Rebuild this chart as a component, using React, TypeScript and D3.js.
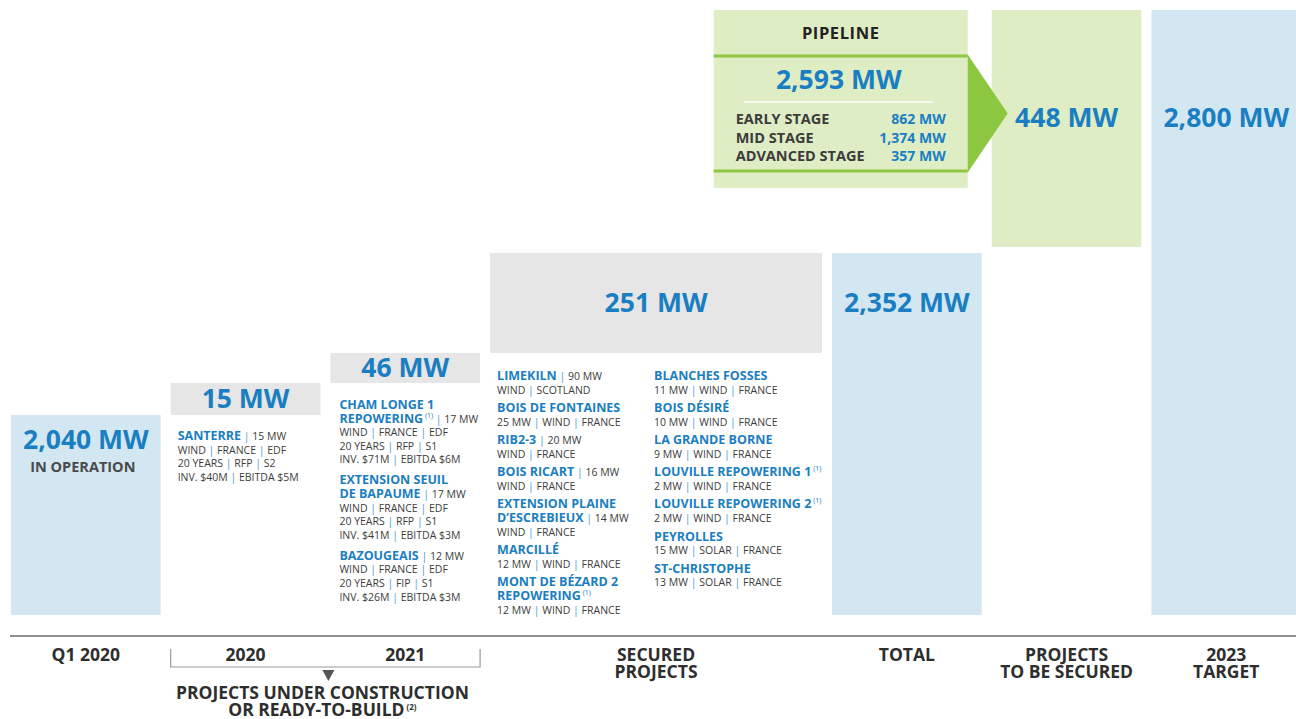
import { useEffect, useRef } from "react";
import * as d3 from "d3";

// Columns of the capacity bridge
const columns = ["Q1 2020", "2020", "2021", "SECURED PROJECTS", "TOTAL", "PROJECTS TO BE SECURED", "2023 TARGET"];
const axisLabels = [["Q1 2020"], ["2020"], ["2021"], ["SECURED", "PROJECTS"], ["TOTAL"], ["PROJECTS", "TO BE SECURED"], ["2023", "TARGET"]];
const capacityMW = [2040, 15, 46, 251, 2352, 448, 2800];
const isTotal = [true, false, false, false, true, false, true];
const barKind = ["operating", "construction", "construction", "secured", "operating", "pipeline", "operating"];
const columnSpan = [1, 1, 1, 2.141, 1, 1, 1];

const groupLabel = ["PROJECTS UNDER CONSTRUCTION", "OR READY-TO-BUILD"];
const groupNote = "(2)";

// Pipeline breakdown
const pipelineStages = ["EARLY STAGE", "MID STAGE", "ADVANCED STAGE"];
const pipelineMW = [862, 1374, 357];

type Project = { name: string[]; note?: string; tail?: string; lines: string[] };

const projects2020: Project[] = [
  { name: ["SANTERRE"], tail: " | 15 MW", lines: ["WIND | FRANCE | EDF", "20 YEARS | RFP | S2", "INV. $40M | EBITDA $5M"] },
];

const projects2021: Project[] = [
  { name: ["CHAM LONGE 1", "REPOWERING"], note: "(1)", tail: " | 17 MW", lines: ["WIND | FRANCE | EDF", "20 YEARS | RFP | S1", "INV. $71M  | EBITDA $6M"] },
  { name: ["EXTENSION SEUIL", "DE BAPAUME"], tail: " | 17 MW", lines: ["WIND | FRANCE | EDF", "20 YEARS | RFP | S1", "INV. $41M | EBITDA $3M"] },
  { name: ["BAZOUGEAIS"], tail: " | 12 MW", lines: ["WIND | FRANCE | EDF", "20 YEARS | FIP | S1", "INV. $26M | EBITDA $3M"] },
];

const securedLeft: Project[] = [
  { name: ["LIMEKILN"], tail: " | 90 MW", lines: ["WIND | SCOTLAND"] },
  { name: ["BOIS DE FONTAINES"], lines: ["25 MW | WIND | FRANCE"] },
  { name: ["RIB2-3"], tail: " | 20 MW", lines: ["WIND | FRANCE"] },
  { name: ["BOIS RICART"], tail: " | 16 MW", lines: ["WIND | FRANCE"] },
  { name: ["EXTENSION PLAINE", "D\u2019ESCREBIEUX"], tail: " | 14 MW", lines: ["WIND | FRANCE"] },
  { name: ["MARCILLÉ"], lines: ["12 MW  | WIND | FRANCE"] },
  { name: ["MONT DE BÉZARD 2", "REPOWERING"], note: "(1)", lines: ["12 MW  | WIND | FRANCE"] },
];

const securedRight: Project[] = [
  { name: ["BLANCHES FOSSES"], lines: ["11 MW  | WIND | FRANCE"] },
  { name: ["BOIS DÉSIRÉ"], lines: ["10 MW  | WIND | FRANCE"] },
  { name: ["LA GRANDE BORNE"], lines: ["9 MW | WIND | FRANCE"] },
  { name: ["LOUVILLE REPOWERING 1"], note: "(1)", lines: ["2 MW | WIND | FRANCE"] },
  { name: ["LOUVILLE REPOWERING 2"], note: "(1)", lines: ["2 MW | WIND | FRANCE"] },
  { name: ["PEYROLLES"], lines: ["15 MW  | SOLAR | FRANCE"] },
  { name: ["ST-CHRISTOPHE"], lines: ["13 MW  | SOLAR | FRANCE"] },
];

const FONT = "'Open Sans', 'Noto Sans', sans-serif";
const BLUE = "#1a7ec2";
const PIPE = "#4b9bd6";
const DARK = "#3c3c3c";
const fills: Record<string, string> = {
  operating: "#d3e7f3",
  construction: "#e6e6e6",
  secured: "#e6e6e6",
  pipeline: "#deedc4",
};
const GREEN = "#8dc63f";

export default function App() {
  const ref = useRef<SVGSVGElement | null>(null);

  useEffect(() => {
    const width = 1296;
    const svg = d3.select(ref.current);
    svg.selectAll("*").remove();

    const fmt = d3.format(",");

    // x: column units -> pixels
    const GAP = 10;
    const starts = [0, ...Array.from(d3.cumsum(columnSpan))];
    const xu = d3.scaleLinear().domain([0, 1]).range([11, 170.7]);
    const colX0 = (i: number) => xu(starts[i]);
    const colX1 = (i: number) => xu(starts[i + 1]) - GAP;
    const colMid = (i: number) => (colX0(i) + colX1(i)) / 2;

    // running bridge
    let run = 0;
    const bars = capacityMW.map((v, i) => {
      const from = isTotal[i] ? 0 : run;
      const to = isTotal[i] ? v : run + v;
      run = to;
      return { i, from, to };
    });

    // the bridge is not drawn to scale: piecewise scale through each level
    const levels = Array.from(new Set([0, ...bars.map(b => b.to)])).sort(d3.ascending);
    const y = d3.scaleLinear().domain(levels).range([615, 415, 383, 353, 253, 10]);

    // Bars
    svg
      .append("g")
      .selectAll("rect")
      .data(bars)
      .enter()
      .append("rect")
      .attr("x", d => colX0(d.i))
      .attr("y", d => y(d.to))
      .attr("width", d => colX1(d.i) - colX0(d.i))
      .attr("height", d => y(d.from) - y(d.to) - (barKind[d.i] === "pipeline" ? 6 : 0))
      .attr("fill", d => fills[barKind[d.i]]);

    // Pipeline box
    const px1 = colX1(4) - 14;
    const px0 = px1 - 254;
    const ptop = y(capacityMW[6]);
    const line1 = ptop + 46;
    const line2 = ptop + 161;
    const arrowY = (line1 + line2) / 2;
    const pg = svg.append("g");
    pg.append("rect")
      .attr("x", px0)
      .attr("y", ptop)
      .attr("width", px1 - px0)
      .attr("height", 178)
      .attr("fill", fills.pipeline);
    pg.append("path")
      .attr("d", `M${px1},${line1 - 1.5}L${px1 + 40},${arrowY}L${px1},${line2 + 1.5}Z`)
      .attr("fill", GREEN);
    [line1, line2].forEach(ly =>
      pg.append("line")
        .attr("x1", px0)
        .attr("x2", px1)
        .attr("y1", ly)
        .attr("y2", ly)
        .attr("stroke", GREEN)
        .attr("stroke-width", 3)
    );
    pg.append("text")
      .attr("x", (px0 + px1) / 2)
      .attr("y", ptop + 29)
      .attr("text-anchor", "middle")
      .attr("font-size", 16.5)
      .attr("letter-spacing", 0.6)
      .attr("font-weight", 700)
      .attr("fill", "#222")
      .text("PIPELINE");
    pg.append("text")
      .attr("x", (px0 + px1) / 2 - 2)
      .attr("y", ptop + 79)
      .attr("text-anchor", "middle")
      .attr("font-size", 26.5)
      .attr("font-weight", 700)
      .attr("fill", BLUE)
      .text(`${fmt(d3.sum(pipelineMW))} MW`);
    pg.append("line")
      .attr("x1", px0 + 30)
      .attr("x2", px1 - 35)
      .attr("y1", ptop + 92)
      .attr("y2", ptop + 92)
      .attr("stroke", "#fff")
      .attr("stroke-width", 1.5);
    pipelineStages.forEach((s, k) => {
      const by = ptop + 114 + k * 18.5;
      pg.append("text")
        .attr("x", px0 + 22)
        .attr("y", by)
        .attr("font-size", 14.5)
        .attr("font-weight", 700)
        .attr("fill", DARK)
        .text(s);
      pg.append("text")
        .attr("x", px1 - 22)
        .attr("y", by)
        .attr("text-anchor", "end")
        .attr("font-size", 14)
        .attr("font-weight", 700)
        .attr("fill", BLUE)
        .text(`${fmt(pipelineMW[k])} MW`);
    });

    // Value labels
    const labelY = (i: number): number => {
      const b = bars[i];
      if (i === 0) return y(b.to) + 34;
      if (i === 4) return labelY(3);
      if (i >= 5) return arrowY + 13;
      return (y(b.from) + y(b.to)) / 2 + 9;
    };
    svg
      .append("g")
      .selectAll("text")
      .data(bars)
      .enter()
      .append("text")
      .attr("x", d => colMid(d.i))
      .attr("y", d => labelY(d.i))
      .attr("text-anchor", "middle")
      .attr("font-size", 26.5)
      .attr("font-weight", 700)
      .attr("fill", BLUE)
      .text(d => `${fmt(capacityMW[d.i])} MW`);
    svg.append("text")
      .attr("x", colMid(0) - 3)
      .attr("y", y(bars[0].to) + 57)
      .attr("text-anchor", "middle")
      .attr("font-size", 14.5)
      .attr("font-weight", 700)
      .attr("fill", "#4a4a4a")
      .text("IN OPERATION");

    // Project lists
    const addPiped = (t: d3.Selection<SVGTextElement, unknown, null, undefined>, str: string, dy = 0) => {
      str.split("|").forEach((part, k) => {
        if (k > 0) t.append("tspan").attr("fill", PIPE).attr("font-size", 10.5).text("|");
        const s = t.append("tspan").attr("fill", DARK).attr("font-size", 10.5).text(part);
        if (k === 0 && dy) s.attr("dy", dy);
      });
    };
    const drawBlock = (list: Project[], x: number, y0: number, lineStep: number, groupStep: number) => {
      const g = svg.append("g").style("white-space", "pre");
      let yy = y0;
      list.forEach((p, pi) => {
        if (pi > 0) yy += groupStep - lineStep;
        p.name.forEach((n, ni) => {
          const t = g.append("text").attr("x", x).attr("y", yy);
          t.append("tspan").attr("font-size", 12.5).attr("font-weight", 700).attr("fill", BLUE).text(n);
          if (ni === p.name.length - 1) {
            let dy = 0;
            if (p.note) {
              t.append("tspan").attr("font-size", 7).attr("dy", -5).attr("fill", BLUE).text(" " + p.note);
              dy = 5;
            }
            if (p.tail) addPiped(t, p.tail, dy);
          }
          yy += lineStep;
        });
        p.lines.forEach(l => {
          const t = g.append("text").attr("x", x).attr("y", yy);
          addPiped(t, l);
          yy += lineStep;
        });
      });
    };
    drawBlock(projects2020, colX0(1) + 7, y(bars[1].from) + 25, 13.6, 20);
    drawBlock(projects2021, colX0(2) + 9, y(bars[2].from) + 26, 13.6, 21);
    drawBlock(securedLeft, colX0(3) + 7, y(bars[3].from) + 27, 13.8, 18.3);
    drawBlock(securedRight, colX0(3) + 164, y(bars[3].from) + 27, 13.8, 18.3);

    // Bottom axis
    const axisY = 636;
    svg.append("line")
      .attr("x1", 10)
      .attr("x2", width)
      .attr("y1", axisY)
      .attr("y2", axisY)
      .attr("stroke", "#8f8f8f")
      .attr("stroke-width", 2);
    const ax = svg.append("g").attr("font-size", 17.5).attr("font-weight", 700).attr("fill", "#2e2e2e");
    axisLabels.forEach((lines, i) => {
      lines.forEach((l, k) => {
        ax.append("text")
          .attr("x", colMid(i))
          .attr("y", axisY + 25 + k * 17)
          .attr("text-anchor", "middle")
          .text(l);
      });
    });

    // Bracket for projects under construction
    const bx0 = colX0(1),
      bx1 = colX1(2);
    const bc = (bx0 + bx1) / 2 + 3;
    svg.append("path")
      .attr("d", `M${bx0},${axisY + 13}V${axisY + 31}H${bx1}V${axisY + 13}`)
      .attr("fill", "none")
      .attr("stroke", "#9a9a9a")
      .attr("stroke-width", 1.2);
    svg.append("path")
      .attr("d", `M${bc - 6},${axisY + 34}L${bc + 6},${axisY + 34}L${bc},${axisY + 45}Z`)
      .attr("fill", "#555");
    groupLabel.forEach((l, k) => {
      const t = ax.append("text")
        .attr("x", bc - 6)
        .attr("y", axisY + 63 + k * 16.5)
        .attr("text-anchor", "middle")
        .text(l);
      if (k === groupLabel.length - 1)
        t.append("tspan").attr("font-size", 8).attr("dy", -6).text(" " + groupNote);
    });
  }, []);

  return (
    <svg
      ref={ref}
      width={1296}
      height={719}
      fontFamily={FONT}
      style={{ position: "absolute", left: 0, top: 0, display: "block", background: "#fff" }}
    />
  );
}
